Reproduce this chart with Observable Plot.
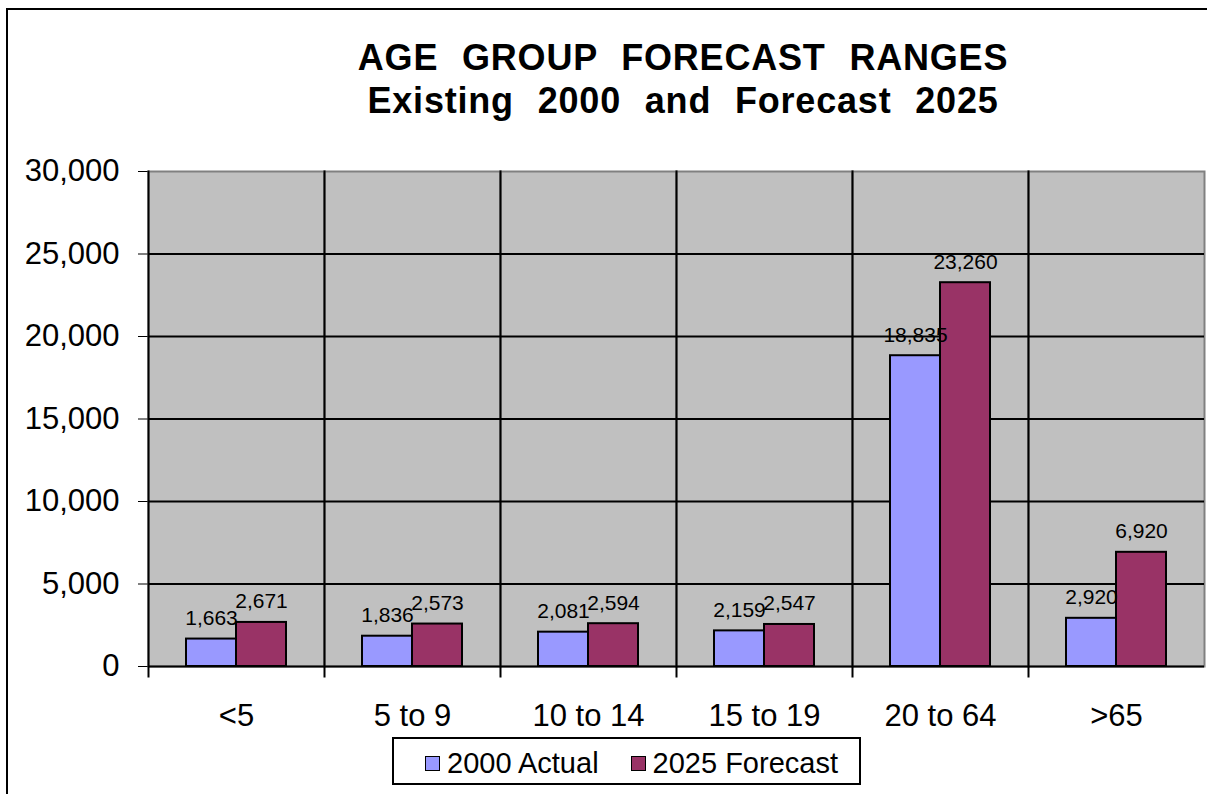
<!DOCTYPE html>
<html>
<head>
<meta charset="utf-8">
<script src="https://cdn.jsdelivr.net/npm/d3@7"></script>
<script src="https://cdn.jsdelivr.net/npm/@observablehq/plot@0.6"></script>
<style>
  html, body { margin: 0; padding: 0; background: #fff; }
  #wrap { position: relative; width: 1207px; height: 794px; overflow: hidden; font-family: "Liberation Sans", Arial, sans-serif; }
  #outer { position: absolute; left: 6px; top: 8px; width: 1240px; height: 820px; border: 2px solid #000; box-sizing: border-box; }
  #title { position: absolute; left: 0; top: 36px; width: 1366px; text-align: center; font-weight: bold; font-size: 36px; line-height: 43px; word-spacing: 13px; letter-spacing: 0.8px; color: #000; }
  #chart { position: absolute; left: 0; top: 0; }
  #legend { position: absolute; left: 392px; top: 737px; width: 469px; height: 48px; border: 2px solid #000; box-sizing: border-box; background: #fff; display: flex; align-items: center; padding-left: 31px; padding-top: 4px; font-size: 29px; color: #000; white-space: nowrap; }
  .item { display: flex; align-items: center; flex-shrink: 0; }
  .item:first-child { margin-right: 32px; }
  .sw { width: 13px; height: 13px; border: 1px solid #000; margin-right: 7px; flex-shrink: 0; }
</style>
</head>
<body>
<div id="wrap">
  <div id="outer"></div>
  <div id="chart"></div>
  <div id="title"></div>
  <div id="legend"></div>
</div>
<script>
const titleLines = ["AGE GROUP FORECAST RANGES", "Existing 2000 and Forecast 2025"];
const categories = ["<5", "5 to 9", "10 to 14", "15 to 19", "20 to 64", ">65"];
const seriesNames = ["2000 Actual", "2025 Forecast"];
const actual2000 = [1663, 1836, 2081, 2159, 18835, 2920];
const forecast2025 = [2671, 2573, 2594, 2547, 23260, 6920];
const seriesColors = ["#9999FF", "#993366"];
const yTicks = [0, 5000, 10000, 15000, 20000, 25000, 30000];
const gridTicks = [0, 5000, 10000, 15000, 20000, 25000];

const rows = [];
categories.forEach((c, i) => {
  rows.push({category: c, series: seriesNames[0], value: actual2000[i]});
  rows.push({category: c, series: seriesNames[1], value: forecast2025[i]});
});

const fmt = d3.format(",");

const plot = Plot.plot({
  width: 1207,
  height: 730,
  marginLeft: 147,
  marginRight: 2,
  marginTop: 171,
  marginBottom: 64,
  style: {fontFamily: '"Liberation Sans", Arial, sans-serif', fontSize: "31px", color: "#000", background: "transparent", overflow: "visible"},
  fx: {domain: categories, padding: 0, axis: "bottom", tickSize: 0, tickPadding: 37, label: null},
  x: {domain: seriesNames, axis: null, paddingInner: 0, paddingOuter: 0.7288},
  y: {domain: [0, 30000], ticks: yTicks, tickFormat: fmt, tickSize: 10, tickPadding: 19, label: null},
  color: {domain: seriesNames, range: seriesColors},
  marks: [
    Plot.frame({fill: "#C0C0C0", stroke: "#808080", strokeWidth: 2}),
    Plot.ruleY(gridTicks, {stroke: "#000", strokeWidth: 2}),
    Plot.frame({anchor: "left", stroke: "#000", strokeWidth: 2, insetBottom: -10}),
    Plot.barY(rows, {fx: "category", x: "series", y: "value", fill: "series", stroke: "#000", strokeWidth: 2}),
    Plot.text(rows, {fx: "category", x: "series", y: "value", text: d => fmt(d.value), fontSize: 21, lineAnchor: "bottom", dy: -14, fill: "#000"})
  ]
});
document.getElementById("chart").appendChild(plot);

document.getElementById("title").innerHTML = titleLines.join("<br>");
const legend = document.getElementById("legend");
seriesNames.forEach((s, i) => {
  const it = document.createElement("div");
  it.className = "item";
  const sw = document.createElement("div");
  sw.className = "sw";
  sw.style.background = seriesColors[i];
  const tx = document.createElement("span");
  tx.textContent = s;
  it.appendChild(sw); it.appendChild(tx);
  legend.appendChild(it);
});
</script>
</body>
</html>
